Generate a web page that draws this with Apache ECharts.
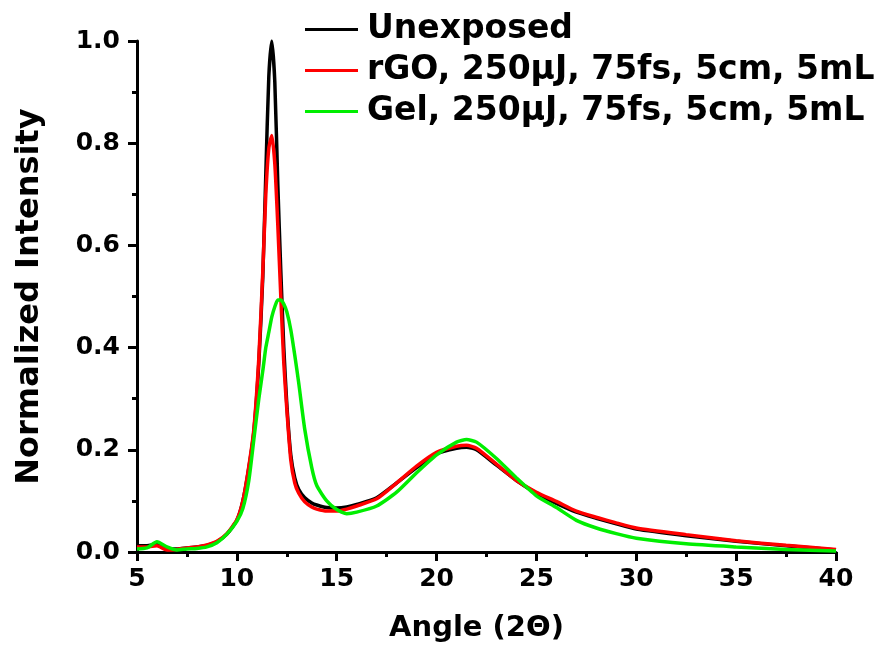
<!doctype html>
<html lang="en">
<head>
    <meta charset="UTF-8">
    <title>XRD</title>
    <script src="https://cdn.jsdelivr.net/npm/echarts@6/dist/echarts.min.js"></script>
    <style>
        html, body { margin: 0; padding: 0; background: #fff; }
    </style>
</head>
<body>
<div id="main" style="width: 885px;height:650px;"></div>
<script type="text/javascript">
    // angle (2 theta) sample points
    var angles = [5, 5.5, 6, 6.5, 7, 7.5, 8, 8.5, 9, 9.5, 10, 10.3, 10.6, 10.85, 11.1, 11.3, 11.45, 11.6, 11.75, 11.9,
        12.05, 12.2, 12.35, 12.5, 12.7, 12.9, 13.1, 13.4, 13.75, 14, 14.5, 15, 15.5, 16, 17, 18, 19, 20, 21, 21.5,
        22, 23, 24, 25, 26, 27, 28, 29, 30, 32.5, 35, 37.5, 40];

    var unexposed = [0.012, 0.012, 0.015, 0.006, 0.006, 0.008, 0.010, 0.013, 0.020, 0.035, 0.062, 0.100, 0.165, 0.235, 0.370, 0.540, 0.740, 0.930, 1.000, 0.920,
        0.720, 0.550, 0.400, 0.290, 0.190, 0.145, 0.122, 0.106, 0.096, 0.092, 0.087, 0.086, 0.088, 0.093, 0.106, 0.135, 0.165, 0.192, 0.203, 0.205,
        0.200, 0.170, 0.140, 0.115, 0.095, 0.078, 0.066, 0.055, 0.045, 0.032, 0.021, 0.012, 0.004];

    var rgo = [0.010, 0.010, 0.012, 0.004, 0.005, 0.008, 0.010, 0.014, 0.021, 0.036, 0.063, 0.100, 0.168, 0.240, 0.380, 0.550, 0.700, 0.790, 0.815, 0.760,
        0.640, 0.500, 0.370, 0.280, 0.180, 0.135, 0.115, 0.098, 0.088, 0.084, 0.080, 0.080, 0.084, 0.090, 0.104, 0.135, 0.168, 0.195, 0.207, 0.209,
        0.203, 0.172, 0.140, 0.117, 0.099, 0.080, 0.068, 0.057, 0.047, 0.034, 0.022, 0.013, 0.005];

    var gel = [0.006, 0.008, 0.020, 0.010, 0.004, 0.006, 0.007, 0.010, 0.018, 0.035, 0.060, 0.085, 0.140, 0.220, 0.300, 0.355, 0.400, 0.430, 0.460, 0.480,
        0.493, 0.493, 0.485, 0.470, 0.435, 0.385, 0.330, 0.240, 0.165, 0.130, 0.100, 0.083, 0.075, 0.078, 0.090, 0.117, 0.155, 0.190, 0.215, 0.220,
        0.215, 0.183, 0.145, 0.110, 0.087, 0.062, 0.047, 0.036, 0.027, 0.016, 0.010, 0.005, 0.002];

    var seriesNames = ['Unexposed', 'rGO, 250\u03bcJ, 75fs, 5cm, 5mL', 'Gel, 250\u03bcJ, 75fs, 5cm, 5mL'];
    var seriesColors = ['#000000', '#ff0000', '#00ee00'];

    var FONT = 'DejaVu Sans';

    function pairs(xs, ys){
        var out = [];
        for(var i=0;i<xs.length;i++){
            out.push([xs[i], ys[i]]);
        }
        return out;
    }

    var myChart = echarts.init(document.getElementById('main'), null, {renderer: 'canvas'});

    var allData = [unexposed, rgo, gel];
    var series = [];
    for(var k=0;k<3;k++){
        series.push({
            name: seriesNames[k],
            type: 'line',
            data: pairs(angles, allData[k]),
            showSymbol: false,
            smooth: 0.2,
            lineStyle: {color: seriesColors[k], width: 3.5},
            itemStyle: {color: seriesColors[k]},
            z: 2 + k
        });
    }

    var option = {
        animation: false,
        backgroundColor: '#ffffff',
        grid: {left: 137, right: 49, top: 41, bottom: 98, containLabel: false},
        legend: {
            orient: 'vertical',
            left: 300,
            top: 8,
            itemGap: 8,
            itemWidth: 53,
            itemHeight: 3,
            icon: 'rect',
            data: seriesNames,
            textStyle: {fontFamily: FONT, fontWeight: 'bold', fontSize: 33, color: '#000', padding: [0, 0, 0, 4]}
        },
        xAxis: {
            type: 'value',
            min: 5,
            max: 40,
            interval: 5,
            name: 'Angle (2\u0398)',
            nameLocation: 'middle',
            nameGap: 62,
            nameTextStyle: {fontFamily: FONT, fontWeight: 'bold', fontSize: 29, color: '#000', padding: [0, 20, 0, 0]},
            axisLine: {show: true, onZero: false, lineStyle: {color: '#000', width: 3}},
            axisTick: {show: true, inside: false, length: 9, lineStyle: {color: '#000', width: 3}},
            minorTick: {show: true, splitNumber: 2, length: 5, lineStyle: {color: '#000', width: 3}},
            axisLabel: {fontFamily: FONT, fontWeight: 'bold', fontSize: 25, color: '#000', margin: 15},
            splitLine: {show: false}
        },
        yAxis: {
            type: 'value',
            min: 0,
            max: 1,
            interval: 0.2,
            name: 'Normalized Intensity',
            nameLocation: 'middle',
            nameGap: 91,
            nameTextStyle: {fontFamily: FONT, fontWeight: 'bold', fontSize: 32, color: '#000'},
            axisLine: {show: true, onZero: false, lineStyle: {color: '#000', width: 3}},
            axisTick: {show: true, inside: false, length: 9, lineStyle: {color: '#000', width: 3}},
            minorTick: {show: true, splitNumber: 2, length: 5, lineStyle: {color: '#000', width: 3}},
            axisLabel: {
                fontFamily: FONT, fontWeight: 'bold', fontSize: 25, color: '#000', margin: 17,
                formatter: function(v){ return v.toFixed(1); }
            },
            splitLine: {show: false}
        },
        series: series
    };

    myChart.setOption(option);
</script>
</body>
</html>
